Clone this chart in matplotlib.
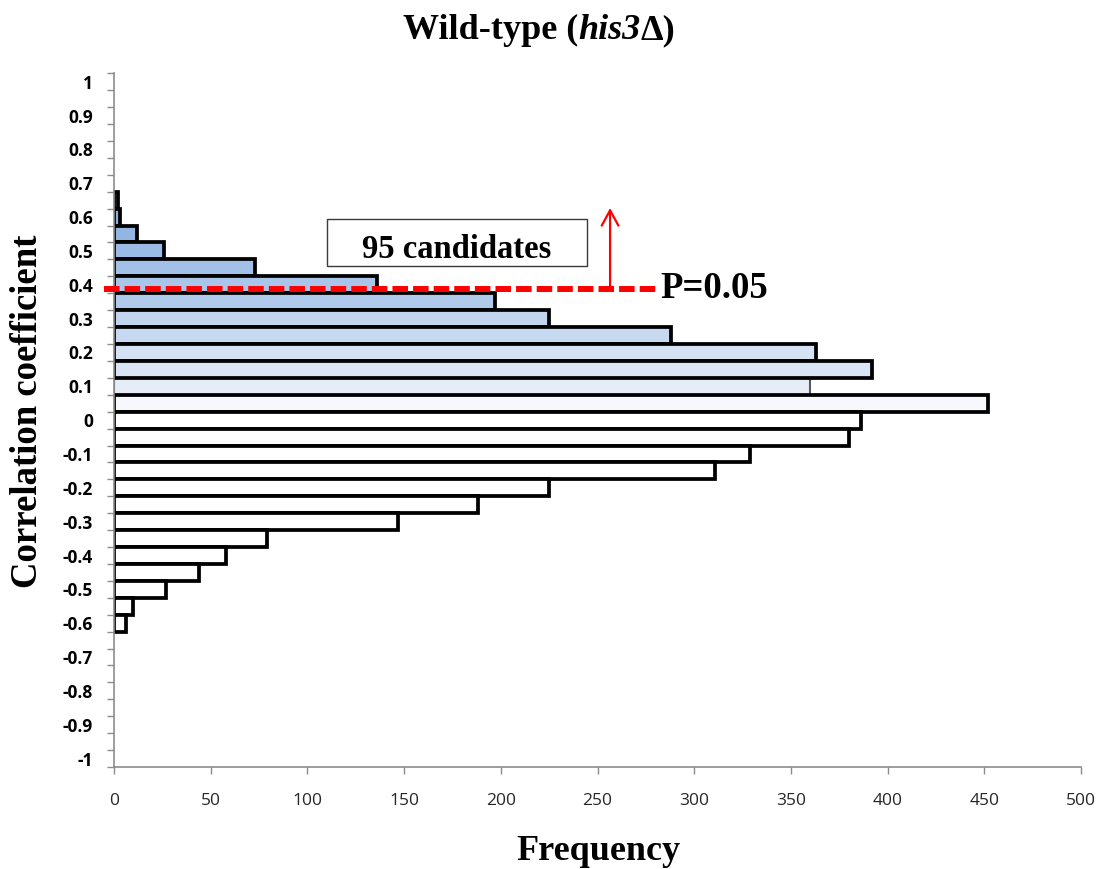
import matplotlib
matplotlib.use("Agg")
import matplotlib.pyplot as plt
from matplotlib.patches import Rectangle
import numpy as np

# Histogram bins (correlation coefficient) and their frequencies
bins = [0.65, 0.6, 0.55, 0.5, 0.45, 0.4, 0.35, 0.3, 0.25, 0.2, 0.15, 0.1, 0.05,
        0.0, -0.05, -0.1, -0.15, -0.2, -0.25, -0.3, -0.35, -0.4, -0.45, -0.5,
        -0.55, -0.6]
freq = [2, 3, 12, 26, 73, 136, 197, 225, 288, 363, 392, 360, 452,
        386, 380, 329, 311, 225, 188, 147, 79, 58, 44, 27, 10, 6]

# Axis labelling
y_tick_values = [1, 0.9, 0.8, 0.7, 0.6, 0.5, 0.4, 0.3, 0.2, 0.1, 0,
                 -0.1, -0.2, -0.3, -0.4, -0.5, -0.6, -0.7, -0.8, -0.9, -1]
y_tick_labels = ["1", "0.9", "0.8", "0.7", "0.6", "0.5", "0.4", "0.3", "0.2",
                 "0.1", "0", "-0.1", "-0.2", "-0.3", "-0.4", "-0.5", "-0.6",
                 "-0.7", "-0.8", "-0.9", "-1"]
x_ticks = [0, 50, 100, 150, 200, 250, 300, 350, 400, 450, 500]

threshold = 0.387          # P = 0.05 cut-off
n_candidates = 95

# Fill shades: darker blue for higher correlations, white from 0 down
shades = {0.65: "#8AB0E0", 0.6: "#8AB0E0", 0.55: "#92B5E2", 0.5: "#9ABBE5",
          0.45: "#A3C1E8", 0.4: "#A9C5EA", 0.35: "#B0CAEC", 0.3: "#C2D5EF",
          0.25: "#C7D9F1", 0.2: "#D4E2F4", 0.15: "#D9E4F4", 0.1: "#E6EDF8",
          0.05: "#F6F8FD"}
colors = [shades.get(b, "white") for b in bins]

W, H = 1102, 869
fig = plt.figure(figsize=(W / 100, H / 100), dpi=100)
fig.patch.set_facecolor("white")

left_px, right_px, top_px, bottom_px = 114, 1081, 73.3, 767
ax = fig.add_axes([left_px / W, 1 - bottom_px / H,
                   (right_px - left_px) / W, (bottom_px - top_px) / H])

bars = ax.barh(bins, freq, height=0.05, color=colors, edgecolor="black",
               linewidth=2.7, zorder=3)
# the 0.1 bin has a lighter, thinner outline tucked under its neighbours
i01 = bins.index(0.1)
bars[i01].set_edgecolor("#595959")
bars[i01].set_linewidth(1.5)
bars[i01].set_zorder(2)

ax.set_xlim(0, 500)
ax.set_ylim(-1.025, 1.025)

spine_col = "#8C8C8C"
for side in ("top", "right"):
    ax.spines[side].set_visible(False)
for side in ("left", "bottom"):
    ax.spines[side].set_color(spine_col)
    ax.spines[side].set_linewidth(1.2)
    ax.spines[side].set_zorder(4)

ax.set_xticks(x_ticks)
ax.set_xticklabels([str(v) for v in x_ticks], fontfamily="Open Sans",
                   fontsize=12.5, color="#262626")
ax.tick_params(axis="x", direction="out", length=5, width=1.0,
               color=spine_col, pad=14)

ax.set_yticks(y_tick_values)
ax.set_yticklabels(y_tick_labels, fontfamily="Open Sans", fontweight="bold",
                   fontsize=12.5, color="black")
ax.tick_params(axis="y", which="major", length=0, pad=15)
edges = np.arange(-1.025, 1.026, 0.05)
ax.set_yticks(edges, minor=True)
ax.tick_params(axis="y", which="minor", direction="out", length=5,
               width=1.0, color=spine_col)

# P = 0.05 threshold line, arrow and annotations
ax.plot([-5, 280], [threshold, threshold], color="#FF0000", lw=4.3,
        linestyle=(0, (2.6, 0.85)), solid_capstyle="butt",
        dash_capstyle="butt", clip_on=False, zorder=6)
ax.annotate("", xy=(256.5, 0.627), xytext=(256.5, threshold),
            arrowprops=dict(arrowstyle="->,head_width=0.3,head_length=0.55",
                            color="#FF0000", lw=1.6, mutation_scale=20,
                            shrinkA=0, shrinkB=0),
            zorder=6)
ax.text(282.3, 0.360, "P=0.05", fontfamily="Liberation Serif",
        fontweight="bold", fontsize=26.5, ha="left", va="baseline",
        clip_on=False, zorder=6)

ax.add_patch(Rectangle((110.1, 0.4555), 134.5, 0.1385, facecolor="white",
                       edgecolor="#3A3A3A", linewidth=1.0, zorder=5))
ax.text(177.3, 0.478, f"{n_candidates} candidates",
        fontfamily="Liberation Serif", fontweight="bold", fontsize=23.5,
        ha="center", va="baseline", zorder=6)

# Axis titles
fig.text(598 / W, 1 - 860 / H, "Frequency", fontfamily="Liberation Serif",
         fontweight="bold", fontsize=26, ha="center", va="baseline")
fig.text(28 / W, 1 - 411.5 / H, "Correlation coefficient",
         fontfamily="Liberation Serif", fontweight="bold", fontsize=26.5,
         rotation=90, ha="center", va="center")

# Title with an italic gene name
renderer = fig.canvas.get_renderer()
parts = [("Wild-type (", "normal"), ("his3", "italic"), ("\u0394)", "normal")]
texts = []
for s, style in parts:
    t = fig.text(0, 1 - 39 / H, s, fontfamily="Liberation Serif",
                 fontweight="bold", fontstyle=style, fontsize=26,
                 ha="left", va="baseline")
    texts.append(t)
widths = [t.get_window_extent(renderer).width for t in texts]
x = 539.5 - sum(widths) / 2
for t, w in zip(texts, widths):
    t.set_x(x / W)
    x += w

fig.savefig("out.png", dpi=100)
